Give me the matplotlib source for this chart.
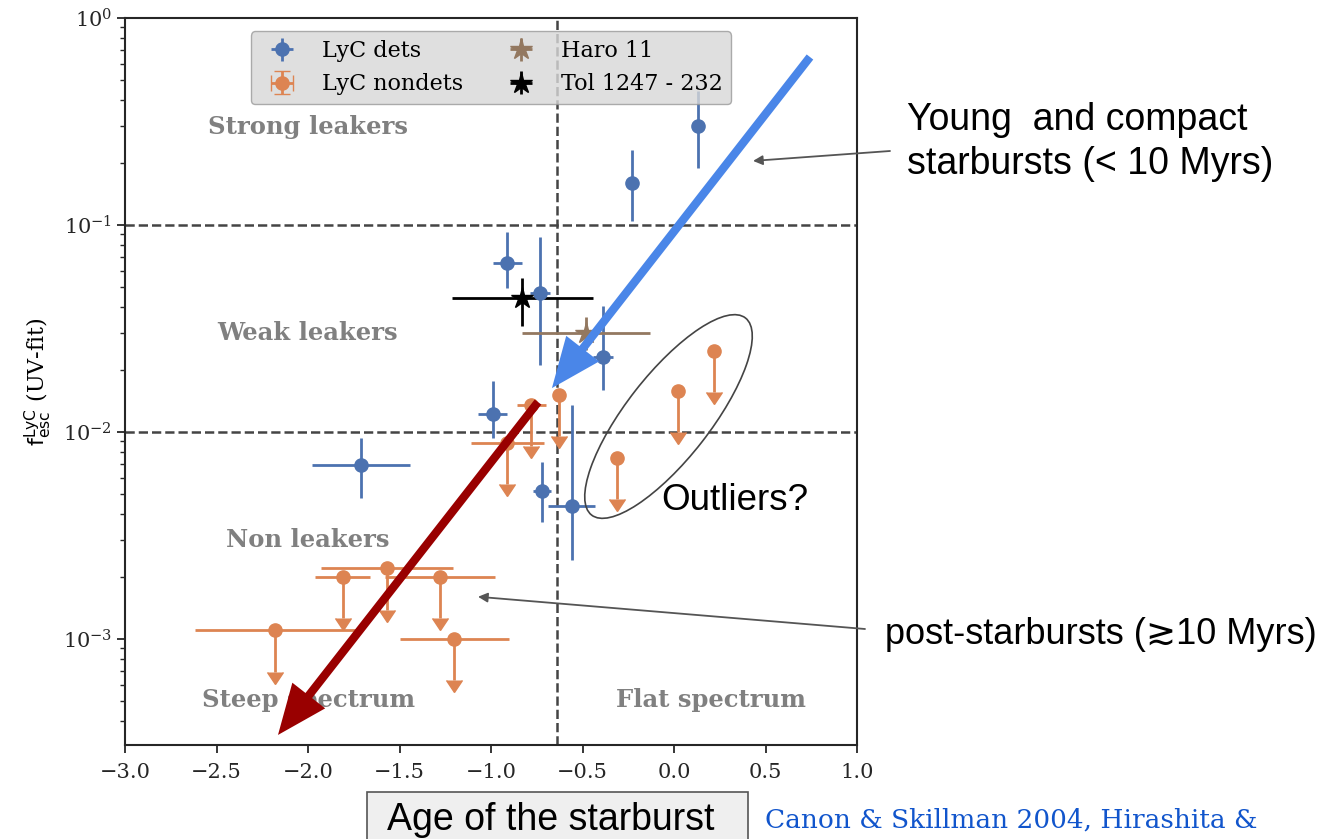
import matplotlib

matplotlib.use("Agg")
import matplotlib.pyplot as plt
from matplotlib.patches import Ellipse, Rectangle
import numpy as np

# LyC detections: log age (x), f_esc (y) with asymmetric bounds
DET_X = [0.13, -0.23, -0.91, -0.73, -0.39, -0.99, -1.71, -0.72, -0.56]
DET_Y = [0.30, 0.16, 0.0655, 0.047, 0.023, 0.0122, 0.0069, 0.0052, 0.0044]
DET_Y_LO = [0.188, 0.1045, 0.0495, 0.021, 0.016, 0.00935, 0.00481, 0.00367, 0.00241]
DET_Y_HI = [0.444, 0.230, 0.0925, 0.0875, 0.0406, 0.0176, 0.00935, 0.00716, 0.0135]
DET_XERR = [0.0, 0.0, 0.08, 0.055, 0.055, 0.08, 0.27, 0.05, 0.13]

# LyC non-detections (upper limits)
NON_X = [-0.63, -0.78, -0.91, 0.02, 0.22, -0.31, -1.81, -1.57, -1.28, -2.18, -1.20]
NON_Y = [0.0151, 0.0135, 0.00885, 0.0158, 0.0246, 0.0075, 0.0020, 0.0022, 0.0020, 0.0011, 0.0010]
NON_XERR = [0.0, 0.08, 0.20, 0.0, 0.0, 0.0, 0.15, 0.36, 0.30, 0.44, 0.30]

# local reference galaxies
HARO_X, HARO_Y, HARO_XERR, HARO_Y_LO, HARO_Y_HI = -0.48, 0.030, 0.35, 0.025, 0.036
TOL_X, TOL_Y, TOL_XERR, TOL_Y_LO, TOL_Y_HI = -0.83, 0.0444, 0.385, 0.0325, 0.0555

AGE_SPLIT = -0.64
FESC_SPLITS = [0.1, 0.01]

BLUE = "#4C72B0"
ORANGE = "#DD8452"
BROWN = "#937860"
W, H = 1324, 839


def fx(px):
    return px / W


def fy(py):
    return 1 - py / H


plt.rcParams.update(
    {
        "font.family": "DejaVu Serif",
        "mathtext.fontset": "dejavuserif",
        "axes.edgecolor": "#262626",
        "xtick.color": "#262626",
        "ytick.color": "#262626",
    }
)

fig = plt.figure(figsize=(W / 100, H / 100), dpi=100, facecolor="white")
ax = fig.add_axes([fx(125), fy(745), (857 - 125) / W, (745 - 18) / H])
ax.set_yscale("log")
ax.set_xlim(-3, 1)
ax.set_ylim(10 ** -3.512, 1)

# quadrant dividers
for yv in FESC_SPLITS:
    ax.axhline(yv, color="#444444", ls="--", lw=1.8, zorder=1)
ax.axvline(AGE_SPLIT, color="#444444", ls="--", lw=1.8, zorder=1)

det_y = np.array(DET_Y)
ax.errorbar(
    DET_X, det_y,
    yerr=[det_y - np.array(DET_Y_LO), np.array(DET_Y_HI) - det_y],
    xerr=DET_XERR, fmt="o", color=BLUE, ms=9.5, elinewidth=2.0,
    capsize=0, label="LyC dets", zorder=3,
)
non_y = np.array(NON_Y)
non = ax.errorbar(
    NON_X, non_y, yerr=non_y * (1 - 10 ** -0.2), xerr=NON_XERR, uplims=True,
    fmt="o", color=ORANGE, ms=9.5, elinewidth=2.0, capsize=0,
    label="LyC nondets", zorder=3,
)
for cap in non[1]:
    cap.set_markersize(11.5)
ax.errorbar(
    [HARO_X], [HARO_Y],
    yerr=[[HARO_Y - HARO_Y_LO], [HARO_Y_HI - HARO_Y]], xerr=[HARO_XERR],
    fmt="*", color=BROWN, ms=16, elinewidth=2.0, label="Haro 11", zorder=3,
)
ax.errorbar(
    [TOL_X], [TOL_Y],
    yerr=[[TOL_Y - TOL_Y_LO], [TOL_Y_HI - TOL_Y]], xerr=[TOL_XERR],
    fmt="*", color="black", ms=16, elinewidth=2.0, label="Tol 1247 - 232", zorder=3,
)

label_kw = dict(color="#808080", fontweight="bold", fontsize=17.5, ha="center", va="center")
ax.text(-2.0, 0.297, "Strong leakers", **label_kw)
ax.text(-2.0, 0.030, "Weak leakers", **label_kw)
ax.text(-2.0, 0.0030, "Non leakers", **label_kw)
ax.text(-2.0, 5.07e-4, "Steep spectrum", **label_kw)
ax.text(0.20, 5.07e-4, "Flat spectrum", **label_kw)

ax.set_xticks(np.arange(-3.0, 1.01, 0.5))
ax.tick_params(axis="both", which="major", labelsize=15, length=6, width=1.3)
ax.tick_params(axis="x", which="major", pad=7)
ax.tick_params(axis="y", which="minor", length=3.5, width=1.0)
for sp in ax.spines.values():
    sp.set_linewidth(1.5)
ax.set_ylabel(r"$\mathsf{f_{esc}^{LyC}}$ (UV-fit)", fontsize=16, labelpad=6)

leg = ax.legend(
    loc="upper center", ncol=2, fontsize=16, frameon=True, fancybox=True,
    facecolor="#d8d8d8", edgecolor="#999999", framealpha=0.8,
    columnspacing=1.6, handletextpad=0.8, borderaxespad=0.6,
)

# slide overlay: arrows, ellipse, notes
ax.annotate(
    "", xy=(-0.667, 0.0163), xytext=(0.743, 0.648),
    arrowprops=dict(facecolor="#4A86E8", edgecolor="none", width=6,
                    headwidth=30, headlength=36, shrink=0), zorder=6,
)
ax.annotate(
    "", xy=(-2.164, 3.44e-4), xytext=(-0.743, 0.01396),
    arrowprops=dict(facecolor="#990000", edgecolor="none", width=6,
                    headwidth=30, headlength=36, shrink=0), zorder=6,
)
ax.annotate(
    "", xy=(0.432, 0.204), xytext=(fx(890), fy(151)), textcoords="figure fraction",
    arrowprops=dict(arrowstyle="-|>", color="#555555", lw=1.3, mutation_scale=14,
                    shrinkA=0, shrinkB=0),
    annotation_clip=False, zorder=6,
)
ax.annotate(
    "", xy=(-1.071, 0.0016), xytext=(fx(865), fy(629)), textcoords="figure fraction",
    arrowprops=dict(arrowstyle="-|>", color="#555555", lw=1.3, mutation_scale=14,
                    shrinkA=0, shrinkB=0),
    annotation_clip=False, zorder=6,
)
fig.add_artist(
    Ellipse((6.685, (H - 416.5) / 100), 2.5, 0.84, angle=52,
            transform=fig.dpi_scale_trans, fill=False, edgecolor="#444444", lw=1.2)
)

sans = ["Liberation Sans", "DejaVu Sans"]
fig.text(fx(907), fy(142), "Young  and compact\nstarbursts (< 10 Myrs)", family=sans,
         fontsize=27, ha="left", va="center", linespacing=1.3)
fig.text(fx(735), fy(500), "Outliers?", family=sans, fontsize=26.5, ha="center", va="center")
fig.text(fx(885), fy(634), "post-starbursts (\u227310 Myrs)", family=sans,
         fontsize=26, ha="left", va="center")

fig.add_artist(
    Rectangle((fx(367), fy(860)), (748 - 367) / W, (860 - 792) / H,
              transform=fig.transFigure, facecolor="#efefef", edgecolor="#555555", lw=1.2)
)
fig.text(fx(387), fy(820), "Age of the starburst", family=sans, fontsize=27,
         ha="left", va="center")
fig.text(fx(765), fy(820), "Canon & Skillman 2004, Hirashita &", color="#1155CC",
         fontsize=19, ha="left", va="center")

fig.savefig("out.png", dpi=100, facecolor="white")
